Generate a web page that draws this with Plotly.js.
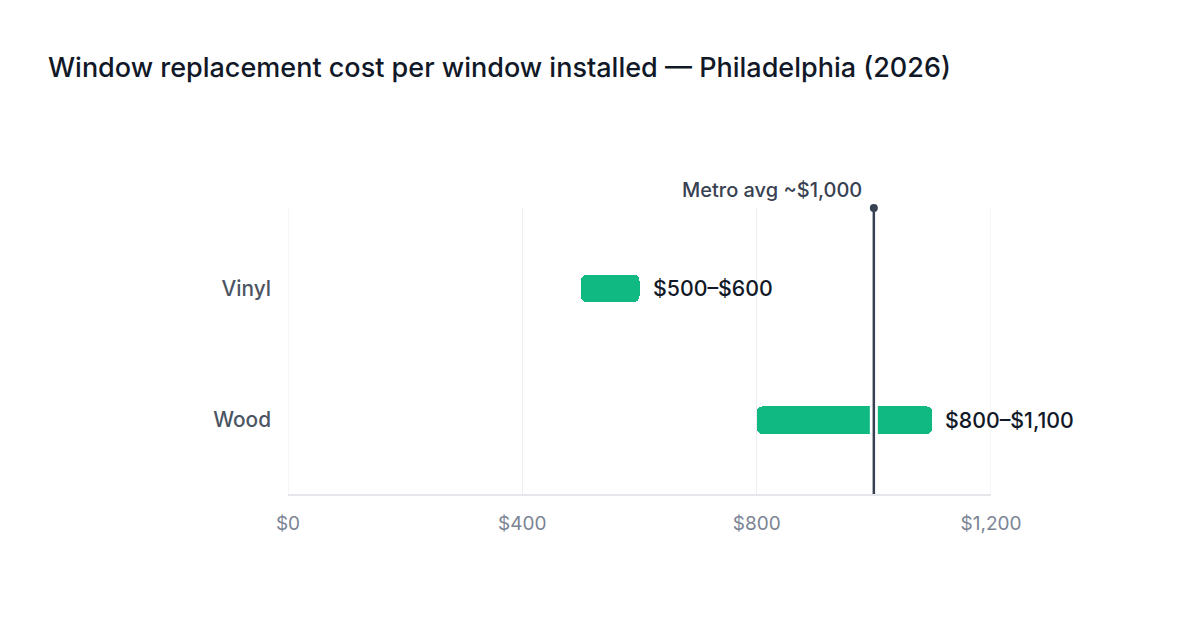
<!DOCTYPE html>
<html><head><meta charset="utf-8">
<script src="https://cdn.plot.ly/plotly-3.0.1.min.js"></script>
<style>html,body{margin:0;padding:0;background:#fff;}#chart{width:1200px;height:630px;}</style>
</head><body><div id="chart"></div>
<script>
const categories = ["Vinyl", "Wood"];
const lowValues = [500, 800];
const highValues = [600, 1100];
const rangeLabels = ["$500–$600", "$800–$1,100"];
const metroAvg = 1000;
const metroLabel = "Metro avg ~$1,000";
const tickValues = [0, 400, 800, 1200];
const tickLabels = ["$0", "$400", "$800", "$1,200"];

const font = "Inter, 'Noto Sans', Arial, sans-serif";

const bars = {
  type: "bar", orientation: "h",
  y: categories,
  base: lowValues,
  x: highValues.map((h, i) => h - lowValues[i]),
  width: 0.21,
  marker: { color: "#10b981", cornerradius: 6 },
  hoverinfo: "skip"
};

const annotations = categories.map((c, i) => ({
  x: highValues[i], y: c, xref: "x", yref: "y",
  text: rangeLabels[i], showarrow: false, xanchor: "left", xshift: 11,
  font: { family: font, size: 21.3, color: "#111827", weight: 500 }
}));
annotations.push({
  x: metroAvg, y: 1, xref: "x", yref: "paper", yanchor: "bottom", yshift: 4,
  text: metroLabel, showarrow: false, xanchor: "right", xshift: -10,
  font: { family: font, size: 20, color: "#374151", weight: 500 }
});

const gridShapes = [tickValues[0], tickValues[tickValues.length - 1]].map(v => ({
  type: "line", xref: "x", yref: "paper", x0: v, x1: v, y0: 0, y1: 1,
  line: { color: "#eceef1", width: 1 }, layer: "below"
}));

const layout = {
  width: 1200, height: 630,
  paper_bgcolor: "#fff", plot_bgcolor: "#fff",
  margin: { l: 288, r: 209, t: 208, b: 136 },
  title: { text: "Window replacement cost per window installed — Philadelphia (2026)",
    x: 0.04, xanchor: "left", y: 0.892, yanchor: "middle",
    font: { family: font, size: 27, color: "#111827", weight: 500 } },
  showlegend: false,
  bargap: 0,
  xaxis: {
    range: [0, 1200], tickvals: tickValues, ticktext: tickLabels,
    showgrid: true, gridcolor: "#eceef1", gridwidth: 1,
    zeroline: false, showline: true, linecolor: "#e5e7eb", linewidth: 2,
    ticks: "", ticklen: 0, ticklabelstandoff: 11,
    tickfont: { family: font, size: 19, color: "#7b8494" },
    fixedrange: true
  },
  yaxis: {
    type: "category", categoryorder: "array", categoryarray: categories,
    range: [1.56, -0.61],
    showgrid: false, zeroline: false, showline: false, ticks: "",
    ticklabelstandoff: 16,
    tickfont: { family: font, size: 20.8, color: "#4b5563", weight: 500 },
    fixedrange: true
  },
  shapes: gridShapes.concat([
    { type: "line", xref: "x", yref: "paper", x0: metroAvg, x1: metroAvg, y0: 0, y1: 1,
      line: { color: "#ffffff", width: 8 }, layer: "above" },
    { type: "line", xref: "x", yref: "paper", x0: metroAvg, x1: metroAvg, y0: 0, y1: 1,
      line: { color: "#374151", width: 2.5 }, layer: "above" },
    { type: "circle", xref: "x", yref: "paper", xsizemode: "pixel", ysizemode: "pixel",
      xanchor: metroAvg, yanchor: 1, x0: -4, x1: 4, y0: -4, y1: 4,
      fillcolor: "#374151", line: { width: 0 }, layer: "above" }
  ]),
  annotations: annotations
};

Plotly.newPlot("chart", [bars], layout, { displayModeBar: false, staticPlot: true });
</script>
</body></html>
